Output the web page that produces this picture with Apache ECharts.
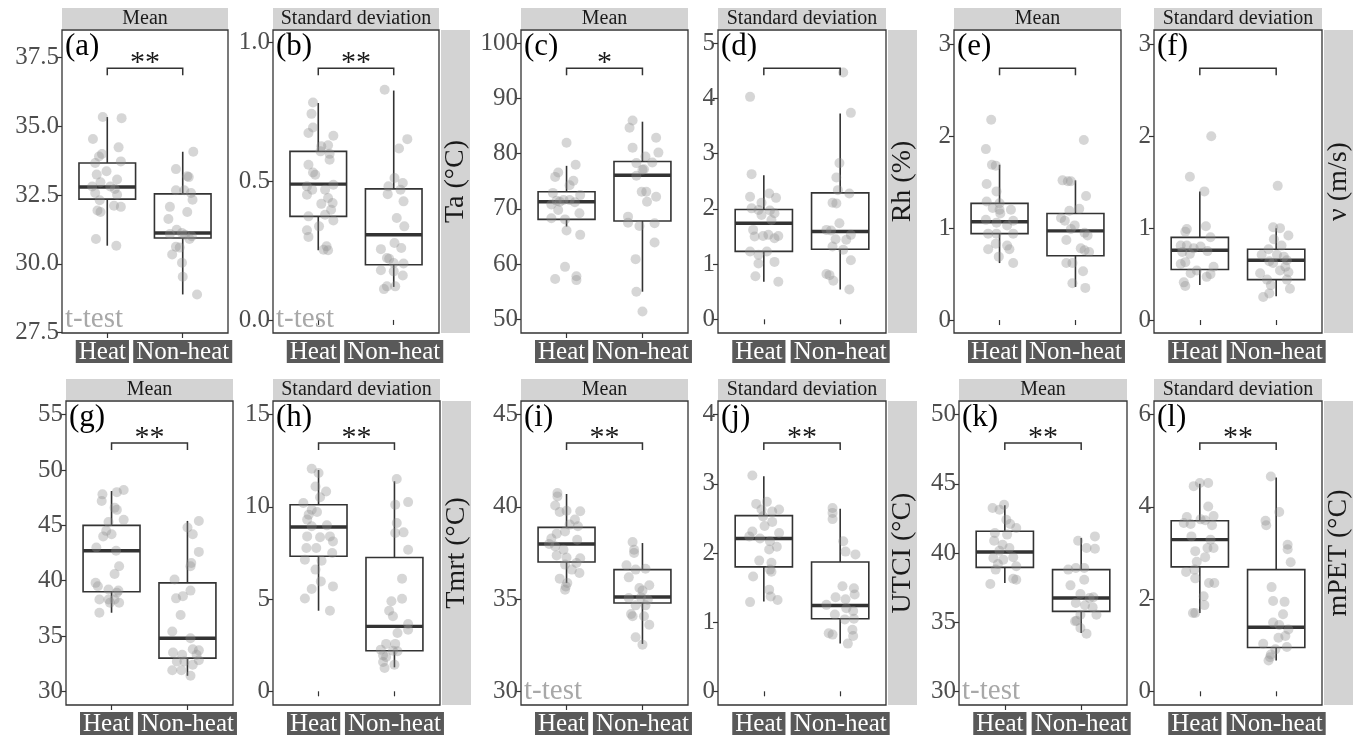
<!DOCTYPE html>
<html><head><meta charset="utf-8">
<script src="https://cdn.jsdelivr.net/npm/echarts@6/dist/echarts.min.js"></script>
<style>html,body{margin:0;padding:0;background:#fff}#c{width:1359px;height:738px}</style>
</head><body><div id="c"></div>
<script>
// ---------------- DATA ----------------
const groups = ['Heat', 'Non-heat'];
const panelLetters = ['(a)','(b)','(c)','(d)','(e)','(f)','(g)','(h)','(i)','(j)','(k)','(l)'];
const stripLabels = ['Mean','Standard deviation','Mean','Standard deviation','Mean','Standard deviation',
                     'Mean','Standard deviation','Mean','Standard deviation','Mean','Standard deviation'];
const variableLabels = ['Ta (°C)','Rh (%)','ν (m/s)','Tmrt (°C)','UTCI (°C)','mPET (°C)'];
const significance = ['**','**','*','','','','**','**','**','**','**','**'];
const testLabels = ['t-test','t-test','','','','','','','t-test','','t-test',''];
const bracketY = [37.10,0.906,95.47,4.547,2.739,2.739,52.44,13.47,43.47,3.59,47.95,5.386];
const yTickValues = [
  [27.5,30,32.5,35,37.5],[0,0.5,1],[50,60,70,80,90,100],[0,1,2,3,4,5],[0,1,2,3],[0,1,2,3],
  [30,35,40,45,50,55],[0,5,10,15],[30,35,40,45],[0,1,2,3,4],[30,35,40,45,50],[0,2,4,6]
];
const yTickDecimals = [1,1,0,0,0,0,0,0,0,0,0,0];
const yMin = [27.49,-0.047,47.52,-0.248,-0.141,-0.141,28.76,-0.743,29.257,-0.198,29.01,-0.297];
const yMax = [38.49,1.044,102.41,5.241,3.156,3.156,56.24,15.743,45.743,4.198,50.99,6.297];

// box statistics: [lower whisker, Q1, median, Q3, upper whisker] for Heat, Non-heat
const a_box = [[30.66,32.35,32.79,33.66,35.33],[28.89,30.94,31.12,32.54,34.07]];
const b_box = [[0.251,0.373,0.489,0.607,0.781],[0.119,0.199,0.307,0.472,0.826]];
const c_box = [[66.8,68.1,71.3,73.1,77.8],[55.0,67.8,76.1,78.6,85.8]];
const d_box = [[0.68,1.23,1.74,1.99,2.61],[0.54,1.27,1.59,2.29,3.73]];
const e_box = [[0.62,0.94,1.07,1.27,1.69],[0.36,0.70,0.97,1.16,1.52]];
const f_box = [[0.38,0.55,0.76,0.90,1.40],[0.26,0.44,0.65,0.77,1.00]];
const g_box = [[37.1,39.0,42.7,45.0,48.1],[31.4,33.0,34.8,39.8,45.4]];
const h_box = [[4.37,7.32,8.91,10.12,12.0],[1.30,2.2,3.52,7.26,11.39]];
const i_box = [[35.87,37.01,37.99,38.89,40.7],[32.57,34.79,35.11,36.6,38.04]];
const j_box = [[1.30,1.80,2.21,2.54,3.11],[0.69,1.05,1.24,1.87,2.64]];
const k_box = [[37.83,38.96,40.07,41.57,43.45],[34.22,35.78,36.75,38.8,41.08]];
const l_box = [[1.70,2.70,3.29,3.70,4.50],[0.67,0.95,1.39,2.64,4.64]];

// observations: [jitter offset (category units), value]
const a_heat = [[-0.06,35.33],[0.19,35.29],[-0.19,34.53],[0.15,34.23],[-0.07,33.99],[-0.11,33.9],[0.18,33.72],[-0.16,33.66],[-0.01,33.36],[-0.14,33.24],[0.13,33.06],[-0.09,32.96],[-0.2,32.81],[0.04,32.81],[0.1,32.72],[-0.16,32.57],[0.13,32.51],[-0.1,32.31],[0.09,32.11],[0.18,32.07],[-0.13,31.94],[-0.09,31.88],[-0.15,30.9],[0.12,30.66]];
const a_non = [[0.14,34.07],[-0.09,33.44],[0.06,33.18],[0.08,33.15],[-0.09,32.67],[0.02,32.67],[0.11,32.57],[0.13,32.33],[-0.17,32.07],[0.06,31.88],[-0.19,31.63],[-0.08,31.24],[-0.01,31.12],[-0.17,31.08],[0.03,31.06],[0.12,31.0],[0.09,30.9],[-0.09,30.62],[-0.04,30.59],[-0.14,30.34],[-0.01,30.04],[0,29.53],[0.19,28.89]];
const b_heat = [[-0.07,0.783],[-0.09,0.742],[-0.07,0.693],[-0.13,0.673],[0.2,0.663],[0.04,0.625],[0.13,0.629],[0.03,0.607],[0.15,0.598],[0.15,0.577],[-0.13,0.559],[-0.07,0.531],[-0.04,0.523],[0.2,0.487],[-0.15,0.481],[-0.08,0.469],[0.09,0.469],[-0.15,0.451],[0.13,0.439],[0.19,0.421],[0.04,0.418],[0.17,0.397],[-0.13,0.373],[0.09,0.379],[0.2,0.358],[0.01,0.337],[-0.15,0.323],[-0.13,0.299],[0.11,0.265],[0.07,0.253],[0.13,0.251]];
const b_non = [[-0.12,0.829],[0.18,0.651],[0.07,0.617],[0.01,0.511],[0.12,0.493],[-0.07,0.481],[0.09,0.469],[-0.08,0.453],[0.13,0.427],[0.04,0.367],[0.14,0.337],[0.01,0.277],[-0.17,0.255],[0.1,0.259],[-0.09,0.223],[-0.06,0.22],[0,0.205],[0.13,0.203],[-0.17,0.179],[0,0.175],[0.12,0.16],[-0.09,0.121],[-0.13,0.111],[0.02,0.121]];
const c_heat = [[0,82.0],[0.12,78.0],[-0.11,76.6],[-0.15,75.8],[0.09,75.1],[0.04,74.3],[-0.18,72.9],[0.18,72.5],[-0.04,71.6],[-0.13,71.5],[0.04,71.6],[0.11,71.2],[-0.09,71.3],[-0.2,70.8],[-0.11,69.8],[0.17,69.2],[-0.2,68.3],[-0.02,68.1],[0,66.1],[0.18,65.3],[-0.02,59.5],[0.13,57.8],[-0.15,57.3],[0.13,57.1]];
const c_non = [[-0.13,86.0],[-0.17,84.7],[0.18,82.9],[-0.13,81.1],[0.21,80.2],[0.04,79.5],[-0.08,78.3],[0.13,78.4],[0.02,77.2],[-0.08,76.0],[0,77.1],[-0.01,73.1],[0.05,73.1],[0.18,72.2],[0.06,71.3],[-0.19,68.6],[-0.19,67.5],[-0.04,66.9],[0.16,67.4],[0.16,63.9],[-0.09,60.9],[-0.08,55.0],[0,51.4]];
const d_heat = [[-0.18,4.03],[-0.16,2.63],[-0.18,2.22],[0.07,2.28],[0.16,2.20],[-0.03,2.11],[-0.16,2.01],[-0.07,1.98],[0.08,1.97],[0.14,1.92],[-0.03,1.89],[0.1,1.80],[-0.14,1.62],[-0.12,1.50],[-0.01,1.51],[0.06,1.53],[0.14,1.47],[0.19,1.51],[-0.18,1.23],[-0.07,1.17],[0.04,1.23],[0.14,1.04],[-0.07,1.01],[-0.11,0.78],[0.19,0.68]];
const d_non = [[0.04,4.47],[0.14,3.74],[-0.01,2.83],[-0.05,2.57],[-0.03,2.34],[0.12,2.28],[-0.1,2.11],[-0.05,2.10],[-0.01,1.74],[-0.18,1.62],[-0.12,1.61],[0.14,1.53],[-0.06,1.45],[0.08,1.44],[-0.1,1.32],[0.04,1.26],[0.14,1.07],[-0.18,0.82],[-0.14,0.80],[-0.09,0.70],[0.12,0.54]];
const e_heat = [[-0.11,2.18],[-0.18,1.86],[-0.1,1.69],[-0.05,1.68],[-0.17,1.48],[-0.04,1.40],[-0.17,1.29],[0,1.27],[-0.09,1.22],[0,1.20],[0.15,1.20],[0.01,1.16],[-0.18,1.09],[-0.04,1.06],[0.18,1.08],[0.1,1.03],[-0.15,0.94],[-0.04,0.94],[0.18,0.94],[-0.05,0.83],[0.1,0.81],[-0.15,0.77],[0.13,0.77],[-0.01,0.69],[0.18,0.62]];
const e_non = [[0.11,1.96],[-0.17,1.52],[-0.1,1.51],[-0.06,1.51],[0.14,1.35],[0.05,1.21],[-0.08,1.19],[-0.19,1.11],[-0.14,1.08],[-0.01,1.03],[-0.06,0.99],[0.12,0.95],[0.16,0.92],[-0.12,0.87],[0.07,0.78],[0.12,0.76],[0.18,0.74],[-0.12,0.62],[-0.04,0.62],[0.1,0.53],[-0.04,0.40],[0.13,0.35]];
const f_heat = [[0.15,2.0],[-0.13,1.56],[0.06,1.40],[0.08,1.02],[-0.17,0.99],[-0.19,0.96],[0.14,0.90],[-0.25,0.81],[-0.17,0.81],[-0.08,0.78],[0.01,0.80],[0.1,0.75],[-0.23,0.74],[-0.13,0.72],[-0.19,0.63],[-0.25,0.61],[0.18,0.58],[-0.04,0.54],[-0.12,0.51],[0.09,0.47],[0.14,0.50],[-0.21,0.41],[-0.19,0.37]];
const f_non = [[0.02,1.46],[-0.04,1.01],[0.05,1.00],[-0.03,0.88],[0.16,0.92],[-0.1,0.77],[0.07,0.81],[-0.19,0.71],[0.01,0.71],[0.1,0.69],[0.14,0.65],[-0.09,0.64],[-0.04,0.62],[0.12,0.58],[0.05,0.54],[-0.21,0.51],[0.16,0.52],[-0.12,0.44],[0.14,0.44],[-0.07,0.38],[0.18,0.34],[-0.09,0.29],[-0.17,0.25]];
const g_heat = [[0.16,48.2],[0.07,48.0],[-0.12,47.8],[-0.13,47.2],[0.04,46.6],[0.07,46.4],[0.16,45.5],[-0.04,45.3],[-0.07,44.5],[-0.11,44.0],[0,44.2],[-0.2,43.0],[0.06,42.7],[0.1,41.3],[0.04,40.6],[-0.21,39.8],[-0.18,39.5],[-0.04,39.2],[0.09,39.1],[0.07,38.9],[-0.16,38.3],[-0.04,38.3],[0.04,38.3],[-0.02,38.0],[0.1,38.0],[-0.16,37.1]];
const g_non = [[0.15,45.4],[0,44.8],[0.07,44.2],[0.15,42.6],[0.05,41.6],[0.04,41.3],[-0.17,40.1],[0.04,39.1],[-0.15,38.4],[-0.06,38.6],[-0.09,36.9],[-0.2,35.4],[0.04,34.8],[-0.19,33.5],[0.07,33.8],[0.15,33.7],[-0.07,33.3],[0.12,33.3],[-0.14,32.7],[-0.04,32.7],[0.15,32.8],[0.07,32.4],[-0.2,31.9],[-0.08,31.9],[0.04,31.4]];
const h_heat = [[-0.09,12.07],[0,11.84],[-0.04,11.11],[0.1,10.84],[0.02,10.52],[-0.2,10.21],[-0.09,9.85],[-0.02,9.72],[-0.13,9.58],[-0.15,9.31],[0.11,9.0],[-0.09,8.95],[-0.15,8.4],[0.02,8.35],[0.15,8.4],[0.19,8.13],[-0.16,7.77],[-0.03,7.77],[0.18,7.5],[-0.18,7.14],[0.04,7.08],[-0.04,6.6],[0.03,5.96],[-0.09,5.55],[0.19,5.69],[-0.18,5.03],[0.15,4.37]];
const h_non = [[0.03,11.51],[0.18,10.26],[0.01,10.12],[0.03,9.13],[0.01,8.58],[0.12,8.62],[0.18,7.68],[0.1,6.11],[-0.04,4.88],[0.1,5.02],[-0.07,4.37],[-0.02,4.07],[0.18,3.65],[0.18,3.34],[0.04,3.16],[-0.11,2.57],[0.01,2.57],[-0.18,2.26],[-0.02,2.2],[0.04,2.17],[-0.15,1.95],[-0.11,1.86],[-0.15,1.59],[0,1.44],[-0.13,1.26]];
const i_heat = [[-0.12,40.75],[-0.12,40.57],[-0.15,40.08],[0,39.79],[0.18,39.76],[-0.09,39.72],[0.11,39.31],[0.04,39.04],[0.15,38.95],[-0.13,38.55],[-0.02,38.67],[-0.2,38.28],[0.14,38.22],[-0.23,37.99],[-0.15,37.86],[-0.04,37.68],[-0.13,37.37],[0,37.26],[0.18,37.22],[0.13,36.96],[-0.02,36.87],[0.07,36.6],[0.17,36.42],[-0.09,36.11],[0.01,35.87],[-0.01,35.69],[-0.02,35.51]];
const i_non = [[-0.13,38.1],[-0.11,37.68],[-0.11,37.5],[-0.21,36.83],[-0.09,36.6],[0.04,36.65],[-0.18,36.18],[0.09,35.75],[-0.04,35.6],[0,35.46],[-0.18,35.06],[-0.02,35.1],[0.07,34.97],[-0.09,34.66],[0.04,34.66],[-0.15,34.19],[-0.13,34.07],[0.02,34.07],[0.09,33.61],[-0.09,32.93],[0,32.53]];
const j_heat = [[-0.15,3.12],[-0.1,2.71],[0.04,2.74],[-0.03,2.63],[0.11,2.6],[0.2,2.63],[-0.01,2.53],[0.11,2.45],[0.01,2.39],[-0.15,2.31],[0.2,2.29],[-0.19,2.24],[-0.05,2.21],[0.08,2.17],[0.17,2.09],[0.07,2.05],[-0.06,1.89],[0.1,1.86],[0.08,1.76],[0.1,1.73],[-0.14,1.66],[0.07,1.47],[0.09,1.37],[-0.18,1.29],[0.18,1.32]];
const j_non = [[-0.1,2.65],[-0.1,2.58],[-0.1,2.49],[0.04,2.17],[0.07,2.02],[0.2,1.98],[0.03,1.52],[0.18,1.49],[0.19,1.40],[-0.06,1.36],[0.07,1.33],[-0.18,1.25],[0.08,1.20],[-0.07,1.11],[0.17,1.16],[0.06,1.04],[0.18,1.05],[0.16,0.89],[-0.15,0.84],[-0.1,0.82],[0.17,0.80],[0.1,0.69]];
const k_heat = [[-0.01,43.49],[-0.16,43.25],[-0.07,43.13],[0.02,42.41],[0.07,42.1],[0.15,41.81],[-0.13,41.45],[0.03,41.33],[-0.14,40.89],[-0.03,40.6],[0.06,40.36],[-0.07,40.17],[-0.15,39.64],[0.11,39.69],[-0.02,39.52],[-0.09,39.2],[0.15,39.04],[-0.12,38.8],[0.11,38.14],[0.15,38.07],[-0.19,37.76]];
const k_non = [[0.18,41.2],[-0.04,40.89],[0.07,40.36],[0.18,40.31],[-0.17,38.8],[-0.07,38.92],[0.04,38.92],[0.04,38.07],[-0.14,37.66],[-0.01,37.04],[0.11,36.75],[0.16,36.8],[-0.07,36.39],[0.05,36.22],[0.15,36.07],[0.2,35.54],[-0.01,35.54],[-0.08,35.06],[-0.06,35.1],[-0.01,34.58],[0.07,34.17]];
const l_heat = [[0,4.52],[0.11,4.52],[-0.08,4.45],[0.11,4.01],[-0.17,3.78],[0.18,3.8],[0.01,3.73],[0.07,3.71],[-0.21,3.65],[-0.12,3.63],[0.16,3.6],[-0.11,3.36],[0.14,3.29],[0.1,3.11],[0.18,3.11],[-0.06,3.04],[0.07,2.91],[-0.04,2.81],[-0.07,2.64],[-0.18,2.59],[-0.06,2.45],[0.12,2.35],[0.19,2.35],[0.05,2.06],[0.06,1.87],[-0.06,1.7],[-0.09,1.7]];
const l_non = [[-0.07,4.66],[0.04,3.89],[-0.14,3.70],[-0.13,3.6],[0.15,3.18],[0.15,3.08],[0.19,2.8],[-0.06,2.26],[-0.04,1.96],[0.11,1.94],[0.09,1.67],[-0.04,1.49],[0.04,1.44],[0.16,1.34],[0.12,1.2],[0.03,1.16],[-0.17,1.03],[0.14,0.96],[-0.01,0.91],[-0.07,0.8],[-0.08,0.74],[-0.1,0.67]];

const boxes = [a_box,b_box,c_box,d_box,e_box,f_box,g_box,h_box,i_box,j_box,k_box,l_box];
const heatObs = [a_heat,b_heat,c_heat,d_heat,e_heat,f_heat,g_heat,h_heat,i_heat,j_heat,k_heat,l_heat];
const nonObs = [a_non,b_non,c_non,d_non,e_non,f_non,g_non,h_non,i_non,j_non,k_non,l_non];

// ---------------- LAYOUT ----------------
const colLeft = [[62,273,521,718,954,1154],[66,273,521,718,959,1154]];
const colWidth = [[166,166,167,168,167,168],[167,167,167,168,168,168]];
const rowTop = [30, 401];
const rowHeight = [303, 304];
const SERIF = '"Liberation Serif","Times New Roman",serif';
const INK = '#333333';
const labelAnchors = [0.935, 2];   // where the group labels sit on the x scale (Heat label nudged left as in the original)

function renderBox(params, api) {
  const x = api.value(0);
  const lo = api.coord([x, api.value(1)]);
  const q1 = api.coord([x, api.value(2)]);
  const md = api.coord([x, api.value(3)]);
  const q3 = api.coord([x, api.value(4)]);
  const hi = api.coord([x, api.value(5)]);
  const w = api.size([0.75, 0])[0];
  const cx = lo[0];
  const st = {stroke: INK, lineWidth: 1.6, fill: null};
  return {type: 'group', children: [
    {type: 'line', shape: {x1: cx, y1: hi[1], x2: cx, y2: q3[1]}, style: st},
    {type: 'line', shape: {x1: cx, y1: q1[1], x2: cx, y2: lo[1]}, style: st},
    {type: 'rect', shape: {x: cx - w / 2, y: q3[1], width: w, height: q1[1] - q3[1]}, style: {stroke: INK, lineWidth: 1.6, fill: '#ffffff'}},
    {type: 'line', shape: {x1: cx - w / 2, y1: md[1], x2: cx + w / 2, y2: md[1]}, style: {stroke: INK, lineWidth: 3.4}}
  ]};
}
function makeBracketRenderer(stars) {
  return function (params, api) {
    const p1 = api.coord([api.value(0), api.value(2)]);
    const p2 = api.coord([api.value(1), api.value(2)]);
    const tip = 7;
    return {type: 'group', children: [
      {type: 'polyline', shape: {points: [[p1[0], p1[1] + tip], [p1[0], p1[1]], [p2[0], p2[1]], [p2[0], p2[1] + tip]]},
       style: {stroke: INK, lineWidth: 1.5, fill: null}},
      {type: 'text', style: {text: stars, x: (p1[0] + p2[0]) / 2, y: p1[1] + 10, align: 'center', verticalAlign: 'bottom',
       fontSize: 30, fontFamily: SERIF, fill: '#1a1a1a'}}
    ]};
  };
}

const grids = [], xAxes = [], yAxes = [], series = [], graphics = [];
for (let i = 0; i < 12; i++) {
  const r = i < 6 ? 0 : 1, c = i % 6;
  const left = colLeft[r][c], width = colWidth[r][c], top = rowTop[r], height = rowHeight[r];
  grids.push({left, top, width, height, show: true, backgroundColor: '#fff', borderColor: INK, borderWidth: 1.3, containLabel: false});
  xAxes.push({type: 'value', gridIndex: i, min: 0.4, max: 2.6,
    axisLine: {show: false}, splitLine: {show: false},
    axisTick: {show: true, customValues: [1, 2], length: 5, lineStyle: {color: INK, width: 1.2}},
    axisLabel: {show: true, customValues: labelAnchors, hideOverlap: false,
      formatter: v => groups[v < 1.5 ? 0 : 1],
      color: '#ffffff', backgroundColor: '#595959', padding: [1, 3, 0, 3], fontSize: 25, lineHeight: 22,
      fontFamily: SERIF, margin: 7}});
  const dec = yTickDecimals[i];
  yAxes.push({type: 'value', gridIndex: i, min: yMin[i], max: yMax[i],
    axisLine: {show: false}, splitLine: {show: false},
    axisTick: {show: true, customValues: yTickValues[i], length: 5, lineStyle: {color: INK, width: 1.2}},
    axisLabel: {show: true, customValues: yTickValues[i], formatter: v => Number(v).toFixed(dec),
      color: '#4D4D4D', fontSize: 25, fontFamily: SERIF, margin: 3}});
  series.push({type: 'custom', xAxisIndex: i, yAxisIndex: i, renderItem: renderBox, silent: true,
    encode: {x: 0, y: [1, 2, 3, 4, 5]},
    data: boxes[i].map((b, g) => [g + 1].concat(b)), z: 2});
  series.push({type: 'scatter', xAxisIndex: i, yAxisIndex: i, symbolSize: 10, silent: true,
    itemStyle: {color: 'rgba(140,140,140,0.45)'}, z: 3,
    data: heatObs[i].map(p => [1 + p[0], p[1]]).concat(nonObs[i].map(p => [2 + p[0], p[1]]))});
  series.push({type: 'custom', xAxisIndex: i, yAxisIndex: i, renderItem: makeBracketRenderer(significance[i]), silent: true,
    encode: {x: [0, 1], y: 2}, data: [[1, 2, bracketY[i]]], z: 4});

  // top strip
  graphics.push({type: 'rect', shape: {x: left, y: top - 22, width: width, height: 21}, style: {fill: '#D3D3D3'}, z: 1});
  graphics.push({type: 'text', x: left + width / 2, y: top - 11.5,
    style: {text: stripLabels[i], align: 'center', verticalAlign: 'middle', fontSize: 20, fontFamily: SERIF, fill: '#1a1a1a'}, z: 2});
  // panel letter
  graphics.push({type: 'text', x: left + 3, y: top + 1,
    style: {text: panelLetters[i], align: 'left', verticalAlign: 'top', fontSize: 31, fontFamily: SERIF, fill: '#000'}, z: 20});
  // test label
  if (testLabels[i]) {
    graphics.push({type: 'text', x: left + 3, y: top + height + 1,
      style: {text: testLabels[i], align: 'left', verticalAlign: 'bottom', fontSize: 29, fontFamily: SERIF, fill: '#A8A8A8'}, z: 20});
  }
  // right variable strip
  if (c % 2 === 1) {
    const sx = left + width + 2;
    graphics.push({type: 'rect', shape: {x: sx, y: top, width: 29, height: height}, style: {fill: '#D3D3D3'}, z: 1});
    graphics.push({type: 'text', x: sx + 14.5, y: top + height / 2, rotation: Math.PI / 2,
      style: {text: variableLabels[r * 3 + (c - 1) / 2], align: 'center', verticalAlign: 'middle', fontSize: 28, fontFamily: SERIF, fill: '#1a1a1a'}, z: 2});
  }
}

const chart = echarts.init(document.getElementById('c'), null, {renderer: 'canvas'});
chart.setOption({
  animation: false,
  backgroundColor: '#ffffff',
  grid: grids, xAxis: xAxes, yAxis: yAxes, series: series,
  graphic: {elements: graphics}
});
</script></body></html>
